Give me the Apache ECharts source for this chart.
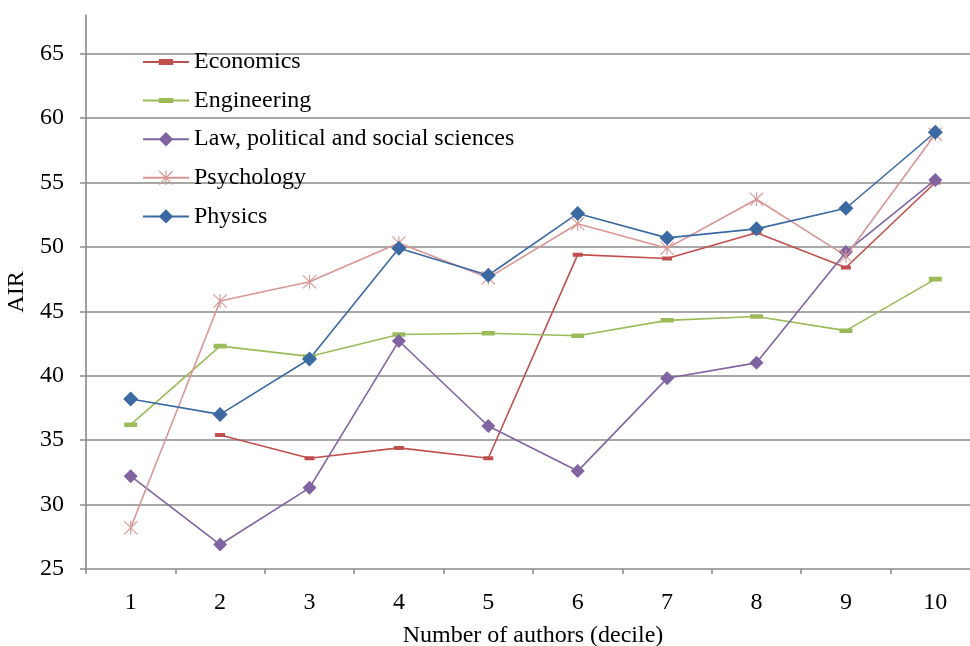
<!DOCTYPE html>
<html>
<head>
<meta charset="utf-8">
<script src="https://cdn.jsdelivr.net/npm/echarts@6/dist/echarts.min.js"></script>
<style>
html,body{margin:0;padding:0;background:#fff;}
#chart{width:970px;height:646px;}
</style>
</head>
<body>
<div id="chart"></div>
<script>
const categories = ['1','2','3','4','5','6','7','8','9','10'];
const yTicks = [25,30,35,40,45,50,55,60,65];
const seriesNames = ['Economics','Engineering','Law, political and social sciences','Psychology','Physics'];
const economics  = [null, 35.4, 33.6, 34.4, 33.6, 49.4, 49.1, 51.1, 48.4, 55.0];
const engineering = [36.2, 42.3, 41.5, 43.2, 43.3, 43.1, 44.3, 44.6, 43.5, 47.5];
const law        = [32.2, 26.9, 31.3, 42.7, 36.1, 32.6, 39.8, 41.0, 49.6, 55.2];
const psychology = [28.2, 45.8, 47.3, 50.3, 47.6, 51.8, 49.9, 53.7, 49.3, 58.75];
const physics    = [38.2, 37.0, 41.3, 49.9, 47.8, 52.6, 50.7, 51.4, 53.0, 58.9];

const FONT = 'Liberation Serif';
// square-bounded path symbols so the legend keeps their shape
const asterisk = 'path://M9.2,0L10.8,0L10.8,20L9.2,20Z M0,1.1L1.1,0L20,18.9L18.9,20Z M18.9,0L20,1.1L1.1,20L0,18.9Z';
const dashSmall = 'path://M0,0L0.01,0L0,0.01Z M0,6L20,6L20,14L0,14Z M20,20L19.99,20L20,19.99Z';
const dashWide = 'path://M0,0L0.01,0L0,0.01Z M0,6.5L20,6.5L20,13.5L0,13.5Z M20,20L19.99,20L20,19.99Z';
const gridColor = '#8a8a8a';

function mk(name, data, color, symbol, size) {
  return {
    name: name, type: 'line', data: data,
    symbol: symbol, symbolSize: size, showAllSymbol: true,
    connectNulls: false,
    lineStyle: {color: color, width: 1.6},
    itemStyle: {color: color},
    emphasis: {disabled: true},
    animation: false
  };
}

const chart = echarts.init(document.getElementById('chart'));
chart.setOption({
  backgroundColor: '#fff',
  animation: false,
  grid: {left: 86, width: 894, top: 15, bottom: 77, containLabel: false, outerBoundsMode: 'none'},
  legend: {
    orient: 'vertical', left: 142, top: 50, padding: 0,
    itemWidth: 46, itemHeight: 18, itemGap: 14.6,
    textStyle: {fontFamily: FONT, fontSize: 24, color: '#000', lineHeight: 24},
    data: seriesNames
  },
  xAxis: {
    type: 'category', data: categories, boundaryGap: true,
    name: 'Number of authors (decile)', nameLocation: 'middle', nameGap: 55,
    nameTextStyle: {fontFamily: FONT, fontSize: 24, color: '#000'},
    axisLine: {lineStyle: {color: gridColor, width: 1.6}},
    axisTick: {show: true, length: 5, lineStyle: {color: gridColor, width: 1.5}},
    axisLabel: {fontFamily: FONT, fontSize: 24, color: '#000', margin: 22},
    splitLine: {show: false}
  },
  yAxis: {
    type: 'value', min: 25, max: 68, interval: 5,
    name: 'AIR', nameLocation: 'middle', nameGap: 48, nameRotate: 90,
    nameTextStyle: {fontFamily: FONT, fontSize: 24, color: '#000'},
    axisLine: {show: true, lineStyle: {color: gridColor, width: 1.6}},
    axisTick: {show: true, length: 6, customValues: yTicks, lineStyle: {color: gridColor, width: 1.5}},
    axisLabel: {fontFamily: FONT, fontSize: 24, color: '#000', margin: 22, customValues: yTicks},
    splitLine: {show: true, showMinLine: false, lineStyle: {color: gridColor, width: 1.6}}
  },
  series: [
    mk(seriesNames[0], economics, '#c0504d', dashSmall, 10),
    mk(seriesNames[1], engineering, '#9bbb59', dashWide, 13),
    mk(seriesNames[2], law, '#8064a2', 'diamond', 14),
    mk(seriesNames[3], psychology, '#d99694', asterisk, 14),
    mk(seriesNames[4], physics, '#3b69a2', 'diamond', 15)
  ]
});
</script>
</body>
</html>
